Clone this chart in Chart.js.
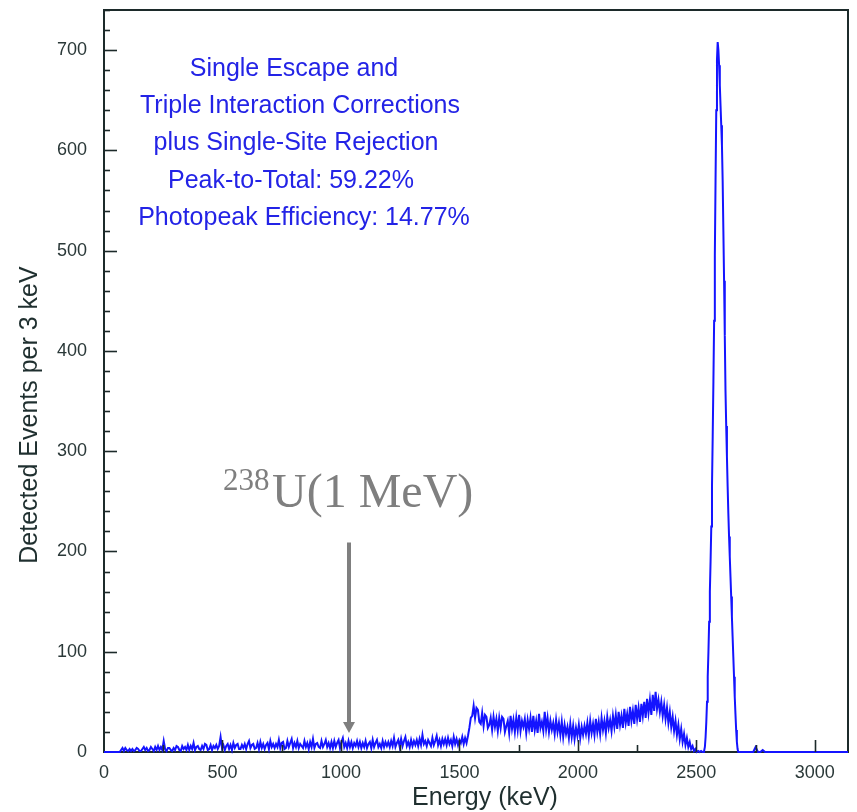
<!DOCTYPE html>
<html>
<head>
<meta charset="utf-8">
<script src="https://cdn.jsdelivr.net/npm/chart.js@4/dist/chart.umd.min.js"></script>
<style>
  body { margin: 0; background: #fff; }
  #wrap { width: 857px; height: 812px; }
</style>
</head>
<body>
<div id="wrap"><canvas id="spectrumChart"></canvas></div>
<script>
// spectrum, split into segments (start keV, bin step keV, counts)
const lowStart = 0, lowStep = 6;
const lowCounts = [
  0,0,0,0,0,0,0,0,0,0,0,0,2,4,1,4,2,1,3,1,
  3,1,2,4,3,1,1,3,5,2,4,1,2,5,3,1,5,2,6,2,
  5,2,11,3,1,4,4,2,1,4,2,6,5,2,1,6,3,5,2,7,
  2,6,3,9,2,5,6,3,2,6,3,8,7,2,3,7,2,6,4,7,
  3,6,15,4,7,2,6,8,3,7,2,9,4,7,8,3,3,7,4,8,
  3,8,11,4,7,8,3,4,9,3,10,4,8,3,7,9,3,11,5,8,
  4,8,5,12,4,9,10,3,4,11,5,9,13,4,9,5,11,4,8,6,
  4,11,5,9,3,10,5,13,4,8,9,5,4,11,5,8,12,5,9,4,
  10,4,11,5,9,12,4,10,14,5,9,4,11,5,10,4,9,6,11,5,
  10,4,9,5,11,4,8,10,4,12,5,9,12,5,8,4,11,5,10,6,
  10,5,11,6,14,5,9,12,5,13,6,11,15,6,10,5,12,6,11,7,
  12,6,13,7,17,8,11,6,12,9,6,14,7,11,16,7,12,6,13,8,
  13,7,14,8,12,6,15,8,13,7,12,9,15,8,14,9,16,24,34
];

const comptonStart = 1554, comptonStep = 6;
const comptonCounts = [
  36,46,34,44,42,30,28,39,26,37,35,24,27,34,22,35,25,33,21,34,
  24,35,33,20,26,31,19,36,23,32,20,34,22,37,21,31,25,33,19,32,
  23,34,20,36,22,31,19,38,24,30,21,40,23,34,20,31,22,29,18,32,
  20,29,17,30,15,27,18,25,14,28,15,26,13,24,16,27,14,25,17,26,
  18,29,16,31,19,28,17,33,20,30,18,34,22,31,19,35,24,32,21,36,
  25,37,23,40,27,36,24,43,29,38,26,45,31,41,28,47,33,44,30,48,
  36,50,34,53,39,52,37,57,41,60,43,52,40,50,36,47,33,44,29,40,
  25,35,21,31,17,27,13,23,10,18,7,14,5,10,3,6,1,3,0,1,
  0,1,0,0
];

const peakStart = 2536, peakStep = 3;
const peakCounts = [
  5,15,30,50,75,100,130,160,190,225,265,315,370,430,495,570,640,690,708,
  700,685,665,645,625,605,570,520,470,415,360,325,295,265,238,215,195,175,
  155,135,115,95,75,55,38,22,10,3,0
];

const tailStart = 2680, tailStep = 10;
const tailCounts = [
  0,0,0,0,0,0,0,5,0,0,2,0,0,0,0,0,0,0,0,0,0,0,0,0,
  0,0,0,0,0,0,0,0,0,0,0,0,0,0,0,0,0,0,0,0,0,0,0
];

const xTicks = [0, 500, 1000, 1500, 2000, 2500, 3000];
const yTicks = [0, 100, 200, 300, 400, 500, 600, 700];

const infoLines = [
  'Single Escape and',
  'Triple Interaction Corrections',
  'plus Single-Site Rejection',
  'Peak-to-Total: 59.22%',
  'Photopeak Efficiency: 14.77%'
];

function segment(start, step, counts) {
  return counts.map((c, i) => ({ x: start + i * step, y: c }));
}
const points = [
  ...segment(lowStart, lowStep, lowCounts),
  ...segment(comptonStart, comptonStep, comptonCounts),
  ...segment(peakStart, peakStep, peakCounts),
  ...segment(tailStart, tailStep, tailCounts)
];

const frameColor = '#1c2a2a';

const decorations = {
  id: 'decorations',
  beforeDatasetsDraw(chart) {
    const { ctx, chartArea: a } = chart;
    ctx.save();
    ctx.strokeStyle = frameColor;
    ctx.lineWidth = 2;
    ctx.strokeRect(a.left, a.top, a.right - a.left, a.bottom - a.top);
    ctx.restore();
  },
  afterDatasetsDraw(chart) {
    const { ctx, chartArea: a, scales } = chart;
    const xs = scales.x, ys = scales.y;
    ctx.save();
    ctx.strokeStyle = frameColor;
    ctx.lineWidth = 1.6;
    // inside ticks
    for (let v = 20; v <= ys.max; v += 20) {
      const y = Math.round(ys.getPixelForValue(v)) + 0.5;
      const len = v % 100 === 0 ? 13 : 6;
      ctx.beginPath(); ctx.moveTo(a.left, y); ctx.lineTo(a.left + len, y); ctx.stroke();
    }
    for (let v = 250; v <= xs.max; v += 250) {
      const x = Math.round(xs.getPixelForValue(v)) + 0.5;
      const len = v % 500 === 0 ? 12 : 7;
      ctx.beginPath(); ctx.moveTo(x, a.bottom); ctx.lineTo(x, a.bottom - len); ctx.stroke();
    }

    // info text
    ctx.fillStyle = '#2323e6';
    ctx.font = '25px "Liberation Sans", Arial, sans-serif';
    ctx.textAlign = 'center';
    ctx.textBaseline = 'alphabetic';
    const centers = [294, 300, 296, 291, 304];
    const baselines = [76, 113, 150, 188, 225];
    infoLines.forEach((t, i) => ctx.fillText(t, centers[i], baselines[i]));

    // 238U annotation
    ctx.fillStyle = '#7f7f7f';
    ctx.textAlign = 'left';
    ctx.font = '31px "Liberation Serif", "Times New Roman", serif';
    ctx.fillText('238', 223, 490);
    ctx.font = '48px "Liberation Serif", "Times New Roman", serif';
    ctx.fillText('U(1 MeV)', 272, 507);

    const ax = xs.getPixelForValue(1034);
    const yTop = ys.getPixelForValue(209);
    const yTip = ys.getPixelForValue(19);
    ctx.strokeStyle = '#7f7f7f';
    ctx.lineWidth = 4;
    ctx.beginPath(); ctx.moveTo(ax, yTop); ctx.lineTo(ax, yTip - 9); ctx.stroke();
    ctx.beginPath();
    ctx.moveTo(ax - 6, yTip - 11); ctx.lineTo(ax + 6, yTip - 11); ctx.lineTo(ax, yTip);
    ctx.closePath(); ctx.fill();

    // axis titles
    ctx.fillStyle = '#1f2f2f';
    ctx.font = '25px "Liberation Sans", Arial, sans-serif';
    ctx.textAlign = 'center';
    ctx.textBaseline = 'middle';
    ctx.fillText('Energy (keV)', 485, 798);
    ctx.translate(30, 415);
    ctx.rotate(-Math.PI / 2);
    ctx.fillText('Detected Events per 3 keV', 0, 0);
    ctx.restore();
  }
};

new Chart(document.getElementById('spectrumChart'), {
  type: 'line',
  data: {
    datasets: [{
      data: points,
      borderColor: '#1414ff',
      borderWidth: 2,
      pointRadius: 0,
      tension: 0,
      fill: false,
      clip: 4
    }]
  },
  options: {
    responsive: true,
    maintainAspectRatio: false,
    animation: false,
    layout: { padding: { top: 10, right: 9, left: 0, bottom: 0 } },
    plugins: { legend: { display: false }, tooltip: { enabled: false }, title: { display: false } },
    scales: {
      x: {
        type: 'linear',
        min: 0,
        max: 3140,
        grid: { display: false, drawTicks: false },
        border: { display: false },
        afterBuildTicks: s => { s.ticks = xTicks.map(v => ({ value: v })); },
        afterFit: s => { s.height = 60; s.paddingLeft = 0; s.paddingRight = 0; },
        ticks: {
          padding: 10,
          color: '#2a3838',
          font: { family: '"Liberation Sans", Arial, sans-serif', size: 18 },
          maxRotation: 0,
          callback: v => String(v)
        }
      },
      y: {
        min: 0,
        max: 740,
        grid: { display: false, drawTicks: false },
        border: { display: false },
        afterBuildTicks: s => { s.ticks = yTicks.map(v => ({ value: v })); },
        afterFit: s => { s.width = 104; s.paddingTop = 0; s.paddingBottom = 0; },
        ticks: {
          padding: 17,
          color: '#2a3838',
          font: { family: '"Liberation Sans", Arial, sans-serif', size: 18 },
          callback: v => String(v)
        }
      }
    }
  },
  plugins: [decorations]
});
</script>
</body>
</html>
